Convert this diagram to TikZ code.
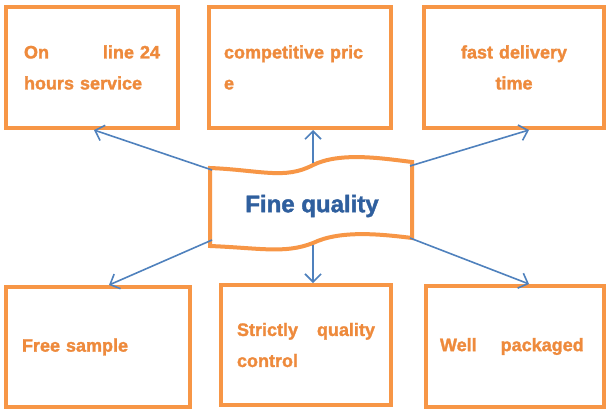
\documentclass[tikz,border=0pt]{standalone}
\usepackage{fontspec}
\setmainfont{Liberation Sans}
\newfontfamily\wordart[FakeBold=1.6]{Liberation Sans}
\usetikzlibrary{arrows.meta,calc}
\definecolor{boxline}{HTML}{F79646}
\definecolor{wordorange}{HTML}{EE8A3C}
\definecolor{arrowblue}{HTML}{4F81BD}
\definecolor{coreblue}{HTML}{2F5F9E}
\begin{document}
\begin{tikzpicture}[
  x=1pt, y=-1pt,
  box/.style={draw=boxline, line width=4pt, fill=white, inner sep=0pt, align=left,
    font=\wordart\bfseries\fontsize{18}{31}\selectfont, text=wordorange},
  wave/.style={draw=boxline, line width=4pt, fill=white},
  arrow/.style={-{Straight Barb[length=8pt,width=16pt]}, draw=arrowblue, line width=1.6pt}
]
\useasboundingbox (0,0) rectangle (609,413);
\node[box, minimum width=172, minimum height=121, text width=136] (online) at (92,67.5) {On\hfill line 24\\hours service};
\node[box, minimum width=182, minimum height=121, text width=152] (price) at (300,67.5) {competitive pric\\e};
\node[box, minimum width=180, minimum height=121, text width=150, align=center] (delivery) at (514,67.5) {fast delivery\\time};
\node[box, minimum width=184, minimum height=120, text width=152] (sample) at (98,347) {Free sample};
\node[box, minimum width=170, minimum height=120, text width=138] (control) at (306,345) {Strictly\hfill quality\\control};
\node[box, minimum width=178, minimum height=121, text width=150] (packaged) at (515,346.5) {Well\hspace{24pt}packaged};
% centre banner
\draw[wave] (210,168) .. controls (260,170) and (285,180) .. (313,165)
  .. controls (340,152) and (380,158) .. (412,162) -- (412,238)
  .. controls (380,234) and (340,230) .. (313,243)
  .. controls (285,254) and (260,248) .. (210,246) -- cycle;
\node[font=\wordart\bfseries\fontsize{24}{28}\selectfont, text=coreblue] (core) at (312,206) {Fine quality};
\coordinate (w1) at (212,170);
\coordinate (w2) at (313,163);
\coordinate (w3) at (410,166);
\coordinate (w4) at (212,240);
\coordinate (w5) at (313,245);
\coordinate (w6) at (410,238);
\draw[arrow] (w1) -- ($(online.south)+(2,0)$);
\draw[arrow] (w2) -- (price.south -| w2);
\draw[arrow] (w3) -- ($(delivery.south)+(15,0)$);
\draw[arrow] (w4) -- ($(sample.north)+(11,0)$);
\draw[arrow] (w5) -- (control.north -| w5);
\draw[arrow] (w6) -- ($(packaged.north)+(14,0)$);
\end{tikzpicture}
\end{document}
